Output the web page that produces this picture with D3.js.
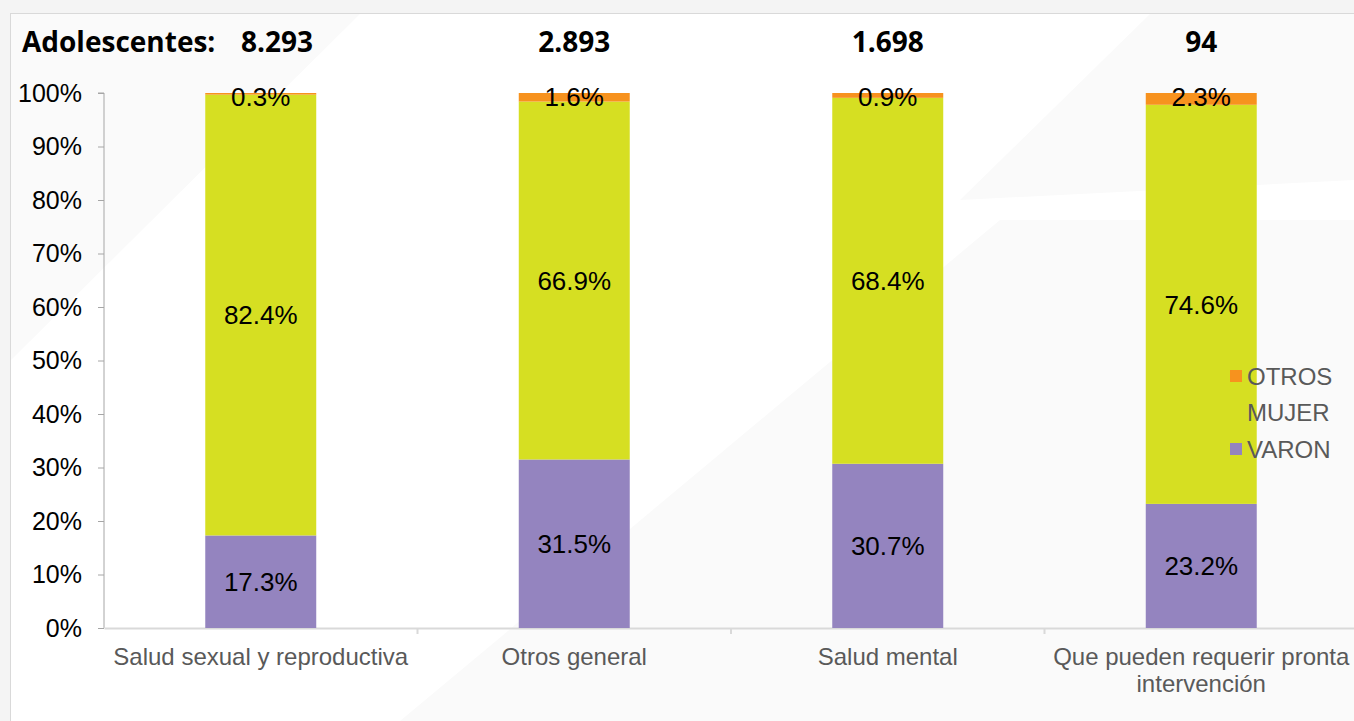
<!DOCTYPE html>
<html>
<head>
<meta charset="utf-8">
<script src="https://cdn.jsdelivr.net/npm/d3@7"></script>
<style>
  body { margin: 0; background: #f4f4f4; }
  svg { display: block; }
</style>
</head>
<body>
<script>
// data
let categories = ["Salud sexual y reproductiva", "Otros general", "Salud mental", "Que pueden requerir pronta intervención"];
let totals = ["8.293", "2.893", "1.698", "94"];
let varon = [17.3, 31.5, 30.7, 23.2];
let mujer = [82.4, 66.9, 68.4, 74.6];
let otros = [0.3, 1.6, 0.9, 2.3];
let series = ["VARON", "MUJER", "OTROS"];
let yTicks = [0, 10, 20, 30, 40, 50, 60, 70, 80, 90, 100];

let colors = { VARON: "#9484bf", MUJER: "#d6df22", OTROS: "#f7921e" };

let width = 1354, height = 721;
let margin = { left: 104, right: -4 };
let font = "'Liberation Sans', Arial, sans-serif";

let svg = d3.select("body").append("svg")
  .attr("width", width)
  .attr("height", height);

// frame + faint watermark
svg.append("rect")
  .attr("x", 10.5).attr("y", 13.5)
  .attr("width", width + 20).attr("height", height + 20)
  .attr("fill", "#fff").attr("stroke", "#d9d9d9");

let wm = svg.append("g").attr("fill", "#fafafa");
wm.append("path").attr("d", "M400,721 L1000,220 L1354,220 L1354,721 Z");
wm.append("path").attr("d", "M11,721 L11,14 L360,14 L11,360 Z");
wm.append("path").attr("d", "M960,200 L1150,14 L1354,14 L1354,180 Z");

let x = d3.scaleBand()
  .domain(categories)
  .range([margin.left, width - margin.right]);

let y = d3.scaleLinear()
  .domain([0, 100])
  .range([628, 93]);

let rows = categories.map((c, i) => ({ cat: c, VARON: varon[i], MUJER: mujer[i], OTROS: otros[i] }));
let stacked = d3.stack().keys(series)(rows);

let barW = x.bandwidth() * 0.354;

// y axis
let yAxis = svg.append("g")
  .attr("transform", `translate(${margin.left},0)`)
  .call(d3.axisLeft(y).tickValues(yTicks).tickSize(6).tickFormat(d => d + "%"));
yAxis.select(".domain").attr("stroke", "#a6a6a6").attr("d", `M-6,${y(100)}H0V${y(0)}`);
yAxis.selectAll(".tick line").attr("stroke", "#a6a6a6");
yAxis.selectAll(".tick text")
  .attr("x", -22)
  .attr("fill", "#000")
  .style("font-family", font)
  .style("font-size", "25px");

// x axis
let xAxis = svg.append("g")
  .attr("transform", `translate(0,${y(0)})`)
  .call(d3.axisBottom(x).tickSize(0).tickFormat(""));
xAxis.select(".domain").attr("stroke", "#d9d9d9").attr("stroke-width", 2);
svg.append("g").selectAll("line")
  .data(categories.slice(1))
  .join("line")
  .attr("x1", d => x(d)).attr("x2", d => x(d))
  .attr("y1", y(0)).attr("y2", y(0) + 6)
  .attr("stroke", "#d9d9d9").attr("stroke-width", 2);

// bars
let layers = svg.append("g").selectAll("g")
  .data(stacked)
  .join("g")
  .attr("fill", d => colors[d.key]);

layers.selectAll("rect")
  .data(d => d)
  .join("rect")
  .attr("x", d => x(d.data.cat) + x.bandwidth() / 2 - barW / 2)
  .attr("width", barW)
  .attr("y", d => y(Math.min(d[1], 100)))
  .attr("height", d => y(d[0]) - y(Math.min(d[1], 100)));

// value labels
let labels = svg.append("g")
  .style("font-family", font)
  .style("font-size", "26px")
  .attr("text-anchor", "middle");

stacked.forEach(layer => {
  layer.forEach(d => {
    let top = Math.min(d[1], 100);
    let cy = (y(d[0]) + y(top)) / 2;
    if (layer.key == "OTROS") cy = y(100) + 4;
    labels.append("text")
      .attr("x", x(d.data.cat) + x.bandwidth() / 2)
      .attr("y", cy)
      .attr("dy", "0.36em")
      .text(d.data[layer.key].toFixed(1) + "%");
  });
});

// category labels
let catText = svg.append("g")
  .style("font-family", font)
  .style("font-size", "24px")
  .attr("fill", "#595959")
  .attr("text-anchor", "middle");

catText.selectAll("text")
  .data(categories)
  .join("text")
  .attr("x", d => x(d) + x.bandwidth() / 2)
  .attr("y", 665)
  .each(function(d) {
    let t = d3.select(this);
    let lines = d == categories[3] ? ["Que pueden requerir pronta", "intervención"] : [d];
    lines.forEach((l, i) => {
      t.append("tspan").attr("x", x(d) + x.bandwidth() / 2).attr("dy", i ? 27 : 0).text(l);
    });
  });

// totals on top
let head = svg.append("g")
  .style("font-family", "'Open Sans', 'Liberation Sans', sans-serif")
  .style("font-size", "28px")
  .style("font-weight", "bold")
  .attr("fill", "#000");

head.append("text")
  .attr("x", 22).attr("y", 52)
  .text("Adolescentes:");

head.selectAll("text.tot")
  .data(totals)
  .join("text")
  .attr("class", "tot")
  .attr("x", (d, i) => i == 0 ? 313 : x(categories[i]) + x.bandwidth() / 2)
  .attr("y", 52)
  .attr("text-anchor", (d, i) => i == 0 ? "end" : "middle")
  .text(d => d);

// legend
let legendItems = ["OTROS", "MUJER", "VARON"];
let legend = svg.append("g")
  .style("font-family", font)
  .style("font-size", "24px");

let li = legend.selectAll("g")
  .data(legendItems)
  .join("g")
  .attr("transform", (d, i) => `translate(1230,${376 + i * 36.5})`);

li.append("rect")
  .attr("y", -6).attr("width", 12).attr("height", 12)
  .attr("fill", d => colors[d]);

li.append("text")
  .attr("x", 17)
  .attr("dy", "0.36em")
  .attr("fill", "#595959")
  .text(d => d);
</script>
</body>
</html>
